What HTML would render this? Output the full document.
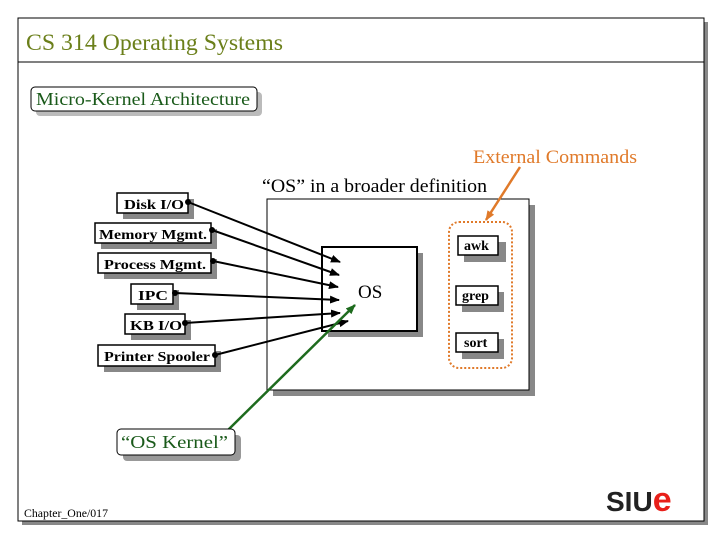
<!DOCTYPE html>
<html><head><style>body{margin:0;background:#fff}svg{display:block}</style></head><body>
<svg width="720" height="540" xmlns="http://www.w3.org/2000/svg" font-family="Liberation Serif, serif">
<defs>
<marker id="a" markerWidth="10" markerHeight="8" refX="9" refY="4" orient="auto" markerUnits="userSpaceOnUse"><path d="M0,0 L10,4 L0,8 z" fill="#000"/></marker>
<marker id="g" markerWidth="10" markerHeight="8" refX="9" refY="4" orient="auto" markerUnits="userSpaceOnUse"><path d="M0,0 L10,4 L0,8 z" fill="#1e6b1e"/></marker>
<marker id="o" markerWidth="10" markerHeight="8" refX="9" refY="4" orient="auto" markerUnits="userSpaceOnUse"><path d="M0,0 L10,4 L0,8 z" fill="#e07a2a"/></marker>
</defs>
<rect x="22" y="22" width="686" height="503" fill="#888"/>
<rect x="18" y="18" width="686" height="503" fill="#fff" stroke="#000"/>
<line x1="18" y1="62" x2="704" y2="62" stroke="#000"/>
<text x="26" y="50" font-size="23" fill="#6b7f1a" textLength="257" lengthAdjust="spacingAndGlyphs">CS 314 Operating Systems</text>
<rect x="36" y="92" width="226" height="24" rx="4" fill="#bbb"/>
<rect x="31" y="87" width="226" height="24" rx="4" fill="#fff" stroke="#000"/>
<text x="36" y="105" font-size="18" fill="#1a5a1a" textLength="214" lengthAdjust="spacingAndGlyphs">Micro-Kernel Architecture</text>
<text x="473" y="163" font-size="19" fill="#e07a2a" textLength="164" lengthAdjust="spacingAndGlyphs">External Commands</text>
<text x="262" y="192" font-size="19" textLength="225" lengthAdjust="spacingAndGlyphs">“OS” in a broader definition</text>
<rect x="273" y="205" width="262" height="191" fill="#888"/>
<rect x="267" y="199" width="262" height="191" fill="#fff" stroke="#000"/>
<rect x="328" y="253" width="95" height="84" fill="#888"/>
<rect x="322" y="247" width="95" height="84" fill="#fff" stroke="#000" stroke-width="2"/>
<text x="358" y="298" font-size="19">OS</text>
<rect x="449" y="222" width="63" height="146" rx="10" fill="none" stroke="#e07a2a" stroke-width="2" stroke-dasharray="2,2"/>
<g font-size="14" font-weight="bold">
<rect x="464" y="242" width="42" height="20" fill="#888"/><rect x="458" y="236" width="40" height="19" fill="#fff" stroke="#000" stroke-width="1.5"/><text x="464" y="250">awk</text>
<rect x="462" y="292" width="42" height="20" fill="#888"/><rect x="456" y="286" width="42" height="19" fill="#fff" stroke="#000" stroke-width="1.5"/><text x="462" y="300">grep</text>
<rect x="462" y="339" width="42" height="20" fill="#888"/><rect x="456" y="333" width="42" height="19" fill="#fff" stroke="#000" stroke-width="1.5"/><text x="464" y="347">sort</text>
<rect x="123" y="199" width="71" height="20" fill="#888"/><rect x="117" y="193" width="71" height="20" fill="#fff" stroke="#000" stroke-width="1.5"/><text x="124" y="209" textLength="60" lengthAdjust="spacingAndGlyphs">Disk I/O</text>
<rect x="101" y="229" width="116" height="20" fill="#888"/><rect x="95" y="223" width="116" height="20" fill="#fff" stroke="#000" stroke-width="1.5"/><text x="99" y="239" textLength="108" lengthAdjust="spacingAndGlyphs">Memory Mgmt.</text>
<rect x="104" y="259" width="113" height="20" fill="#888"/><rect x="98" y="253" width="113" height="20" fill="#fff" stroke="#000" stroke-width="1.5"/><text x="104" y="269" textLength="102" lengthAdjust="spacingAndGlyphs">Process Mgmt.</text>
<rect x="137" y="290" width="42" height="20" fill="#888"/><rect x="131" y="284" width="42" height="20" fill="#fff" stroke="#000" stroke-width="1.5"/><text x="138" y="300" textLength="30" lengthAdjust="spacingAndGlyphs">IPC</text>
<rect x="131" y="320" width="60" height="20" fill="#888"/><rect x="125" y="314" width="60" height="20" fill="#fff" stroke="#000" stroke-width="1.5"/><text x="130" y="330" textLength="52" lengthAdjust="spacingAndGlyphs">KB I/O</text>
<rect x="104" y="351" width="117" height="21" fill="#888"/><rect x="98" y="345" width="117" height="21" fill="#fff" stroke="#000" stroke-width="1.5"/><text x="104" y="361" textLength="106" lengthAdjust="spacingAndGlyphs">Printer Spooler</text>
</g>
<g stroke="#000" stroke-width="2" marker-end="url(#a)">
<line x1="188" y1="202" x2="340" y2="262"/>
<line x1="212" y1="230" x2="339" y2="275"/>
<line x1="213" y1="261" x2="338" y2="287"/>
<line x1="175" y1="293" x2="339" y2="300"/>
<line x1="185" y1="323" x2="340" y2="313"/>
<line x1="215" y1="355" x2="348" y2="321"/>
</g>
<g fill="#000"><circle cx="188" cy="202" r="3"/><circle cx="212" cy="230" r="3"/><circle cx="213" cy="261" r="3"/><circle cx="175" cy="293" r="3"/><circle cx="185" cy="323" r="3"/><circle cx="215" cy="355" r="3"/></g>
<line x1="228" y1="430" x2="355" y2="305" stroke="#1e6b1e" stroke-width="2.5" marker-end="url(#g)"/>
<line x1="520" y1="167" x2="486" y2="220" stroke="#e07a2a" stroke-width="2.5" marker-end="url(#o)"/>
<rect x="123" y="435" width="118" height="26" rx="4" fill="#999"/>
<rect x="117" y="429" width="118" height="26" rx="4" fill="#fff" stroke="#000"/>
<text x="121" y="448" font-size="18" fill="#1a5a1a" textLength="107" lengthAdjust="spacingAndGlyphs">“OS Kernel”</text>
<text x="24" y="517" font-size="12" textLength="84" lengthAdjust="spacingAndGlyphs">Chapter_One/017</text>
<text x="606" y="511" font-family="Liberation Sans, sans-serif" font-weight="bold" font-size="28" fill="#222">SIU<tspan fill="#e8201a" font-size="34">e</tspan></text>
</svg>
</body></html>
